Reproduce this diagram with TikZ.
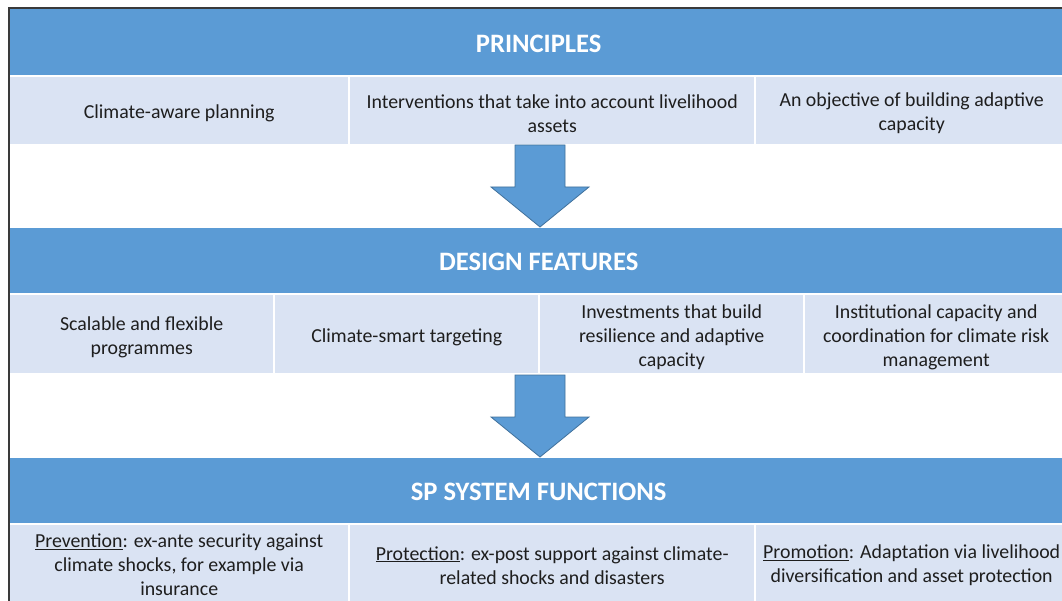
\documentclass[tikz,border=0pt]{standalone}
\usepackage{fontspec}
\setmainfont{Carlito}
\definecolor{hdr}{HTML}{5B9BD5}
\definecolor{cellc}{HTML}{DAE3F3}
\definecolor{arrline}{HTML}{41719C}
\definecolor{framec}{HTML}{3A3A3A}
\definecolor{txt}{HTML}{1E1E1E}
\begin{document}
\begin{tikzpicture}[x=1pt,y=-1pt,
  hdrbox/.style={fill=hdr, inner sep=0pt, anchor=north west, minimum width=1057pt, minimum height=65pt},
  hdrtext/.style={text=white, font=\bfseries\fontsize{26.6}{30}\selectfont, inner sep=0pt, yshift=-1.5pt},
  cellbox/.style={fill=cellc, inner sep=0pt, anchor=north west},
  celltext/.style={text=txt, font=\fontsize{19.85}{24}\selectfont, align=center, inner sep=0pt},
  blockarrow/.style={fill=hdr, draw=arrline, line width=0.8pt, line join=miter}]
\useasboundingbox (0,0) rectangle (1062,601);
\clip (0,0) rectangle (1062,601);
% frame
\draw[framec, line width=1.3pt] (9,602) -- (9,8) -- (1063,8);
% principles
\node[hdrbox, minimum height=66pt] (h1) at (10,9) {};
\node[hdrtext] (h1t) at (h1) {PRINCIPLES};
\node[cellbox, minimum width=338pt, minimum height=67pt] (p1) at (10,77) {};
\node[cellbox, minimum width=404pt, minimum height=67pt] (p2) at (350,77) {};
\node[cellbox, minimum width=311pt, minimum height=67pt] (p3) at (756,77) {};
\node[celltext, yshift=-3pt] (p1t) at (p1) {Climate-aware planning};
\node[celltext, yshift=-2.5pt] (p2t) at (p2) {Interventions that take into account livelihood\\assets};
\node[celltext, yshift=-2.5pt] (p3t) at (p3) {An objective of building adaptive\\capacity};
% arrow 1
\draw[blockarrow] (515,145) -- (565,145) -- (565,187) -- (589,187) -- (540,227) -- (491,187) -- (515,187) -- cycle;
% design features
\node[hdrbox] (h2) at (10,228) {};
\node[hdrtext] (h2t) at (h2) {DESIGN FEATURES};
\node[cellbox, minimum width=263pt, minimum height=78pt] (d1) at (10,295) {};
\node[cellbox, minimum width=263pt, minimum height=78pt] (d2) at (275,295) {};
\node[cellbox, minimum width=263pt, minimum height=78pt] (d3) at (540,295) {};
\node[cellbox, minimum width=262pt, minimum height=78pt] (d4) at (805,295) {};
\node[celltext, yshift=-3pt] (d1t) at (d1) {Scalable and flexible\\programmes};
\node[celltext, yshift=-3pt] (d2t) at (d2) {Climate-smart targeting};
\node[celltext, yshift=-3pt] (d3t) at (d3) {Investments that build\\resilience and adaptive\\capacity};
\node[celltext, yshift=-3pt] (d4t) at (d4) {Institutional capacity and\\coordination for climate risk\\management};
% arrow 2
\draw[blockarrow] (515,375) -- (565,375) -- (565,417) -- (589,417) -- (540,457) -- (491,417) -- (515,417) -- cycle;
% sp system functions
\node[hdrbox] (h3) at (10,458) {};
\node[hdrtext] (h3t) at (h3) {SP SYSTEM FUNCTIONS};
\node[cellbox, minimum width=338pt, minimum height=80pt] (s1) at (10,525) {};
\node[cellbox, minimum width=404pt, minimum height=80pt] (s2) at (350,525) {};
\node[cellbox, minimum width=311pt, minimum height=80pt] (s3) at (756,525) {};
\node[celltext] (s1t) at (s1) {\underline{Prevention}: ex-ante security against\\climate shocks, for example via\\insurance};
\node[celltext] (s2t) at (s2) {\underline{Protection}: ex-post support against climate-\\related shocks and disasters};
\node[celltext] (s3t) at (s3) {\underline{Promotion}: Adaptation via livelihood\\diversification and asset protection};
\end{tikzpicture}
\end{document}
